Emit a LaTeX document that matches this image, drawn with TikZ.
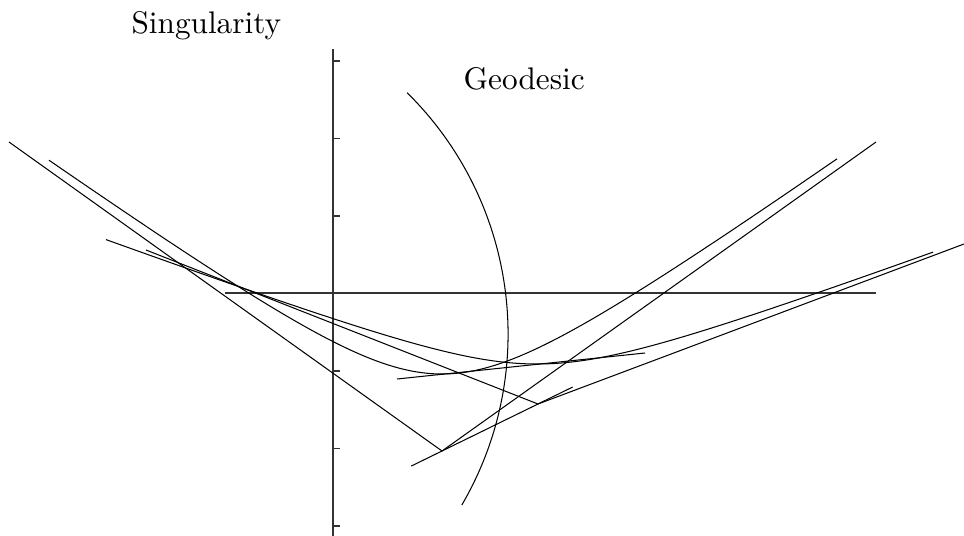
\documentclass[tikz,border=0pt]{standalone}
\usetikzlibrary{calc}

\begin{document}
\begin{tikzpicture}[
    x=3.2pt, y=-3.2pt,
    every node/.style={inner sep=0pt},
    axisline/.style={line width=0.42pt, black!80},
    curveline/.style={line width=0.33pt, black},
  ]
  \useasboundingbox (0,0) rectangle (96.4,53.6);

  % Labels
  \node[anchor=base west] (sing) at (13.1,3.3) {Singularity};
  \node[anchor=base west] (geo) at (46.3,8.9) {Geodesic};

  % Axes
  \coordinate (top) at (33.3,4.9);
  \coordinate (bot) at (33.3,53.6);
  \coordinate (hleft) at (22.5,29.3);
  \coordinate (hright) at (87.6,29.3);
  \draw[axisline] (top) -- (bot);
  \foreach \t in {0,...,6}
    \draw[axisline] (33.3,6.1+7.75*\t) -- ++(0.7,0);
  \draw[axisline] (hleft) -- (hright);

  % Cones
  \coordinate (v1) at (44.2,45.1);
  \coordinate (v2) at (53.8,40.4);
  \coordinate (c1l) at (0.9,14.2);
  \coordinate (c1r) at (87.6,14.2);
  \coordinate (c2l) at (14.6,25.0);
  \coordinate (c2r) at (96.4,24.4);
  \draw[curveline] (c1l) -- (v1) -- (c1r);
  \draw[curveline] (c2l) -- (v2) -- (c2r);
  \draw[curveline] ($(v1)!-0.32!(v2)$) -- ($(v1)!1.36!(v2)$);

  % Hyperbolas
  \draw[curveline] plot[domain=4.9:83.7, samples=120, smooth]
    (\x, {45.1-sqrt(7.7^2+(0.7135*(\x-44.2))^2)});
  \draw[curveline] plot[domain=10.6:93.3, samples=120, smooth]
    (\x, {40.4-sqrt(16+(0.37*(\x-53.7))^2)});

  % Tangent
  \coordinate (tl) at (39.7,37.9);
  \coordinate (tr) at (64.5,35.3);
  \draw[curveline] (tl) -- (tr);

  % Geodesic
  \coordinate (gs) at (40.71,9.27);
  \draw[curveline] (gs) arc[start angle=-45.4, end angle=30.3, radius=33.9];
\end{tikzpicture}
\end{document}
